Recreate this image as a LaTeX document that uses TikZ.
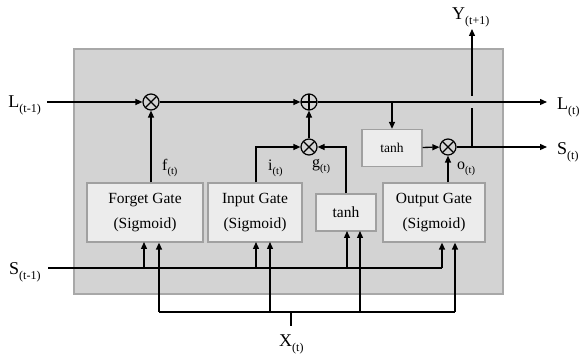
\documentclass[tikz,border=0pt]{standalone}
\usepackage{fontspec}
\setmainfont{Liberation Serif}
\usetikzlibrary{arrows.meta}

\definecolor{cellfill}{RGB}{211,211,211}
\definecolor{celledge}{RGB}{168,168,168}
\definecolor{gatefill}{RGB}{236,236,236}
\definecolor{gateedge}{RGB}{160,160,160}

% subscripts in the text font
\newcommand\tsub[1]{\raisebox{-3.5pt}{\fontsize{10.5}{12}\selectfont(#1)}}
\newcommand\bsub[1]{\raisebox{-4.5pt}{\fontsize{12}{14}\selectfont(#1)}}

\tikzset{
  wire/.style={line width=1.3pt, black},
  arr/.style={wire, -{Triangle[length=7pt,width=6pt]}},
  gatebox/.style={draw=gateedge, line width=1.3pt, fill=gatefill, inner sep=0pt,
    align=center, font=\fontsize{15.5}{25}\selectfont},
  opnode/.style={circle, draw=black, line width=1.2pt, minimum size=16pt, inner sep=0pt},
  mult/.style={opnode, path picture={
    \draw[line width=1.1pt] (path picture bounding box.south west) -- (path picture bounding box.north east);
    \draw[line width=1.1pt] (path picture bounding box.north west) -- (path picture bounding box.south east);}},
  add/.style={opnode, path picture={
    \draw[line width=1.1pt] (path picture bounding box.north) -- (path picture bounding box.south);
    \draw[line width=1.1pt] (path picture bounding box.west) -- (path picture bounding box.east);}},
  lbl/.style={inner sep=0pt, font=\fontsize{16}{18}\selectfont},
  iolbl/.style={inner sep=0pt, font=\fontsize{18}{20}\selectfont},
}

\begin{document}
\begin{tikzpicture}[x=1pt, y=-1pt]
  \useasboundingbox[fill=white] (0,0) rectangle (579,355);

  % LSTM cell background
  \node[draw=celledge, line width=1.5pt, fill=cellfill, minimum width=429pt,
        minimum height=245pt, inner sep=0pt] (cell) at (288.5,171.5) {};

  % gates
  \node[gatebox, minimum width=116pt, minimum height=59pt] (forget) at (145,212.5) {Forget Gate\\(Sigmoid)};
  \node[gatebox, minimum width=94pt, minimum height=59pt] (input) at (255,212.5) {Input Gate\\(Sigmoid)};
  \node[gatebox, minimum width=60pt, minimum height=37pt] (cand) at (346,212.5) {tanh};
  \node[gatebox, minimum width=102pt, minimum height=59pt] (output) at (434,212.5) {Output Gate\\(Sigmoid)};
  \node[gatebox, minimum width=60pt, minimum height=37pt, font=\fontsize{13.5}{16}\selectfont] (ctanh) at (392,148) {tanh};

  % pointwise operations
  \node[mult] (fmul) at (151,102) {};
  \node[add] (plus) at (309,102) {};
  \node[mult] (gmul) at (309,147) {};
  \node[mult] (omul) at (448,147) {};

  % outer labels
  \node[iolbl, anchor=base east] (lin) at (41,108) {L\bsub{t-1}};
  \node[iolbl, anchor=base west] (sin) at (9,275) {S\bsub{t-1}};
  \node[iolbl, anchor=base west] (lout) at (557,110) {L\bsub{t}};
  \node[iolbl, anchor=base west] (sout) at (557,155) {S\bsub{t}};
  \node[iolbl, anchor=base west] (yout) at (452,20) {Y\bsub{t+1}};
  \node[iolbl, anchor=base west] (xin) at (279,347) {X\bsub{t}};

  % inner labels
  \node[lbl, anchor=base west] (flbl) at (162,171) {f\tsub{t}};
  \node[lbl, anchor=base west] (ilbl) at (268,171) {i\tsub{t}};
  \node[lbl, anchor=base west] (glbl) at (312,168) {g\tsub{t}};
  \node[lbl, anchor=base west] (olbl) at (457,170) {o\tsub{t}};

  % free ends and junctions
  \coordinate (lstart) at (47,102);
  \coordinate (lend) at (547,102);
  \coordinate (send) at (547,147);
  \coordinate (ltap) at (392,102);
  \coordinate (yj) at (472,147);
  \coordinate (ygapB) at (472,108);
  \coordinate (ygapT) at (472,96);
  \coordinate (ytip) at (472,29);
  \coordinate (sstart) at (48,268);
  \coordinate (send2) at (442,268);
  \coordinate (xstem) at (291,326);
  \coordinate (xbus) at (291,312);
  \coordinate (xleft) at (159,312);
  \coordinate (xright) at (455,312);

  % cell state path
  \draw[arr] (lstart) -- (fmul);
  \draw[arr] (fmul) -- (plus);
  \draw[arr] (plus) -- (lend);
  \draw[arr] (ltap) -- (ctanh);
  \draw[arr] (gmul) -- (plus);

  % gate outputs
  \draw[arr] (forget.north -| fmul) -- (fmul);
  \draw[arr] ([xshift=1pt]input.north) |- (gmul);
  \draw[arr] (cand.north) |- (gmul);
  \draw[arr] (ctanh) -- (omul);
  \draw[arr] (output.north -| omul) -- (omul);

  % hidden state output
  \draw[arr] (omul) -- (send);
  \draw[wire] (yj) -- (ygapB);
  \draw[arr] (ygapT) -- (ytip);

  % previous hidden state bus
  \draw[wire] (sstart) -- (send2);
  \draw[arr] (send2) -- (send2 |- output.south);
  \draw[arr] (144,268) -- (144,242);
  \draw[arr] (256,268) -- (256,242);
  \draw[arr] (347,268) -- (347,231);

  % input bus
  \draw[wire] (xstem) -- (xbus);
  \draw[wire] (xleft) -- (xright);
  \draw[arr] (xleft) -- (xleft |- forget.south);
  \draw[arr] (270,312) -- (270,242);
  \draw[arr] (360,312) -- (360,231);
  \draw[arr] (xright) -- (xright |- output.south);
\end{tikzpicture}
\end{document}
